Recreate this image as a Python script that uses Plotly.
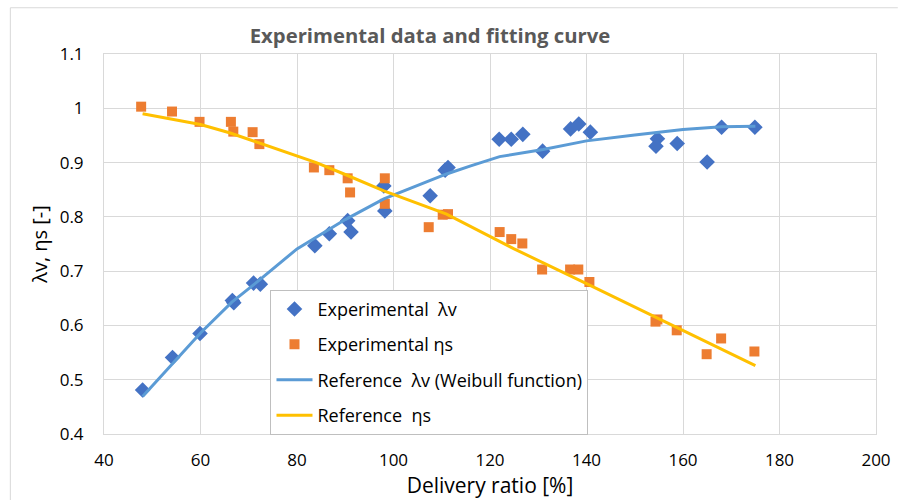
import plotly.graph_objects as go

# Experimental volumetric efficiency (lambda_v)
lv_x = [48, 54.2, 59.9, 66.6, 66.9, 71.0, 72.4, 83.7, 86.7, 90.5, 91.2, 98.0, 98.2,
        107.6, 110.7, 111.3, 121.9, 124.4, 126.8, 130.9, 136.7, 138.4, 140.8,
        154.7, 154.4, 158.8, 165.0, 168.0, 174.9]
lv_y = [0.481, 0.541, 0.585, 0.646, 0.642, 0.678, 0.676, 0.747, 0.769, 0.793, 0.772, 0.857, 0.811,
        0.839, 0.886, 0.891, 0.943, 0.943, 0.952, 0.921, 0.962, 0.971, 0.956,
        0.944, 0.930, 0.935, 0.901, 0.965, 0.965]

# Experimental isentropic efficiency (eta_s)
es_x = [47.7, 54.1, 59.8, 66.3, 66.8, 70.8, 72.2, 83.5, 86.7, 90.5, 91.0, 98.2, 98.2,
        107.3, 110.2, 111.3, 122.0, 124.4, 126.7, 130.8, 136.6, 138.3, 140.6,
        154.3, 154.7, 158.7, 164.9, 167.9, 174.8]
es_y = [1.003, 0.994, 0.975, 0.975, 0.957, 0.956, 0.934, 0.891, 0.886, 0.871, 0.845, 0.871, 0.824,
        0.781, 0.804, 0.805, 0.772, 0.759, 0.751, 0.703, 0.703, 0.703, 0.680,
        0.607, 0.611, 0.591, 0.547, 0.576, 0.552]

# Reference curves
ref_lv_x = [48, 54.5, 60, 66.5, 72, 80, 84, 90, 98, 105, 111, 116, 122, 131, 140, 150, 160, 168, 175]
ref_lv_y = [0.469, 0.533, 0.586, 0.643, 0.682, 0.741, 0.763, 0.795, 0.833, 0.858, 0.879, 0.894,
            0.911, 0.924, 0.940, 0.951, 0.961, 0.966, 0.967]
ref_es_x = [48, 54, 60, 66, 72, 84, 90, 98, 111, 125, 140, 155, 175]
ref_es_y = [0.990, 0.980, 0.970, 0.955, 0.937, 0.900, 0.878, 0.848, 0.805, 0.741, 0.677, 0.612, 0.526]

x_ticks = [40, 60, 80, 100, 120, 140, 160, 180, 200]
y_ticks = [0.4, 0.5, 0.6, 0.7, 0.8, 0.9, 1.0, 1.1]
y_tick_text = ["0.4", "0.5", "0.6", "0.7", "0.8", "0.9", "1", "1.1"]

FONT = "Open Sans"

fig = go.Figure()
fig.add_trace(go.Scatter(x=lv_x, y=lv_y, mode="markers", name="Experimental  λv",
                         legendgroup="a",
                         marker=dict(symbol="diamond", size=12, color="#4472C4")))
fig.add_trace(go.Scatter(x=es_x, y=es_y, mode="markers", name="Experimental ηs",
                         legendgroup="b",
                         marker=dict(symbol="square", size=10, color="#ED7D31")))
fig.add_trace(go.Scatter(x=ref_lv_x, y=ref_lv_y, mode="lines",
                         name="Reference  λv (Weibull function)", legendgroup="c",
                         line=dict(color="#5B9BD5", width=3)))
fig.add_trace(go.Scatter(x=ref_es_x, y=ref_es_y, mode="lines", name="Reference  ηs",
                         legendgroup="d",
                         line=dict(color="#FFC000", width=3)))

L, R, T, B = 104, 20, 54, 64
W, H = 903, 500
pw, ph = W - L - R, H - T - B

def px(x):
    return (x - L) / pw

def py(y):
    return (H - B - y) / ph

fig.update_layout(
    width=W, height=H,
    margin=dict(l=L, r=R, t=T, b=B),
    paper_bgcolor="white", plot_bgcolor="white",
    font=dict(family=FONT, color="#000000", size=16),
    title=dict(text="<b>Experimental data and fitting curve</b>",
               font=dict(family=FONT, size=20.3, color="#595959"),
               x=430 / W, xanchor="center", y=1 - 36 / H, yanchor="middle"),
    showlegend=True,
    legend=dict(x=px(272), y=py(291), xanchor="left", yanchor="top",
                bgcolor="white", bordercolor="#BFBFBF", borderwidth=1,
                font=dict(family=FONT, size=18, color="#000000"),
                itemwidth=36,
                traceorder="grouped", tracegroupgap=9),
    xaxis=dict(range=[40, 200], tickvals=x_ticks, showgrid=True, gridcolor="#D9D9D9",
               gridwidth=1, showline=True, linecolor="#D9D9D9", mirror=True,
               zeroline=False, ticks="", ticklabelstandoff=11,
               tickfont=dict(size=17),
               title=dict(text="Delivery ratio [%]", font=dict(size=21), standoff=2)),
    yaxis=dict(range=[0.4, 1.1], tickvals=y_ticks, ticktext=y_tick_text, showgrid=True,
               gridcolor="#D9D9D9", gridwidth=1, showline=True, linecolor="#D9D9D9",
               mirror=True, zeroline=False, ticks="", ticklabelstandoff=16,
               tickfont=dict(size=17),
               title=dict(text="λv, ηs [-]", font=dict(size=20), standoff=6)),
)

# outer chart border (top and left edges visible)
fig.add_shape(type="line", xref="paper", yref="paper",
              x0=px(9.5), x1=px(905), y0=py(7.5), y1=py(7.5),
              line=dict(color="#D9D9D9", width=1))
fig.add_shape(type="line", xref="paper", yref="paper",
              x0=px(9.5), x1=px(9.5), y0=py(7.5), y1=py(505),
              line=dict(color="#D9D9D9", width=1))

fig.write_html("out.html")
